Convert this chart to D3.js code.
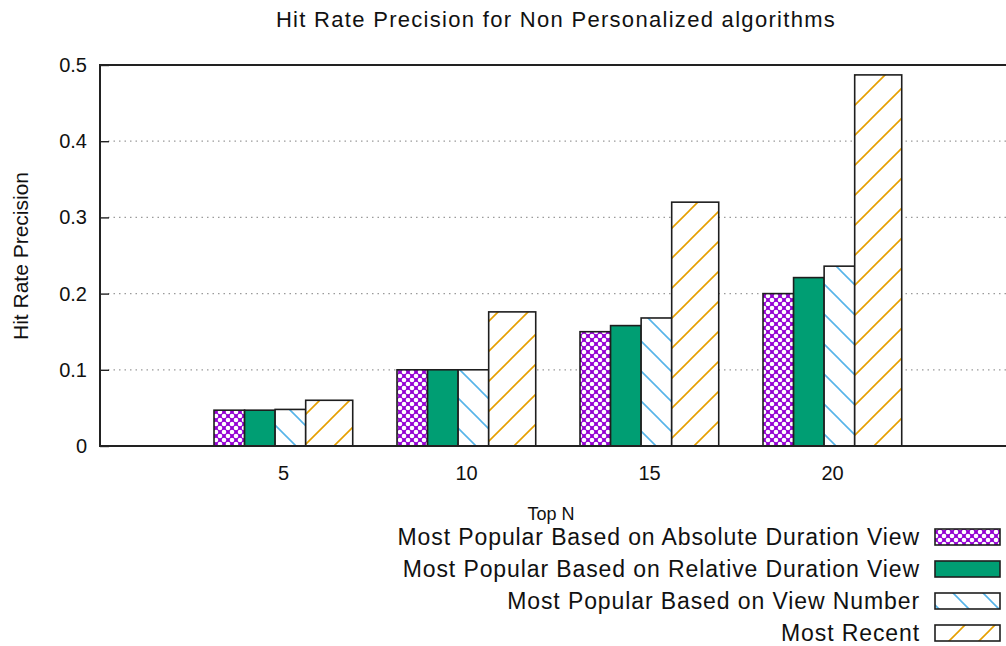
<!DOCTYPE html>
<html>
<head>
<meta charset="utf-8">
<script src="https://cdn.jsdelivr.net/npm/d3@7"></script>
<style>
  html, body { margin: 0; padding: 0; background: #fff; }
  svg { display: block; font-family: "Liberation Sans", Arial, sans-serif; }
</style>
</head>
<body>
<svg id="chart" width="1006" height="646"></svg>
<script>
// Hit rate precision of the non-personalized recommenders, per list size
const topN = [5, 10, 15, 20];
const seriesNames = [
  "Most Popular Based on Absolute Duration View",
  "Most Popular Based on Relative Duration View",
  "Most Popular Based on View Number",
  "Most Recent"
];
const absDuration = [0.047, 0.100, 0.150, 0.200];
const relDuration = [0.047, 0.100, 0.158, 0.221];
const viewNumber  = [0.048, 0.100, 0.168, 0.236];
const mostRecent  = [0.060, 0.176, 0.320, 0.487];
const yTicks = [0, 0.1, 0.2, 0.3, 0.4, 0.5];
const yTickLabels = ["0", "0.1", "0.2", "0.3", "0.4", "0.5"];

const series = [absDuration, relDuration, viewNumber, mostRecent];

const svg = d3.select("#chart");
const plotLeft = 100, plotTop = 65, plotBottom = 446;
const slot = 183;                           // distance between neighbouring groups
const plotRight = plotLeft + 5 * slot;      // frame runs past the page edge

const x = d3.scaleLinear().domain([0, 5]).range([plotLeft, plotRight]);
const y = d3.scaleLinear().domain([0, 0.5]).range([plotBottom, plotTop]);

// fill patterns, anchored to the page origin
const defs = svg.append("defs");
const pCross = defs.append("pattern").attr("id", "fill0")
  .attr("patternUnits", "userSpaceOnUse").attr("width", 8).attr("height", 8);
pCross.append("rect").attr("width", 8).attr("height", 8).attr("fill", "#9400d3");
[[0, 0], [8, 0], [0, 8], [8, 8], [4, 4]].forEach(([cx, cy]) =>
  pCross.append("circle").attr("cx", cx).attr("cy", cy).attr("r", 2.3).attr("fill", "#fff"));

const pSolid = defs.append("pattern").attr("id", "fill1")
  .attr("patternUnits", "userSpaceOnUse").attr("width", 8).attr("height", 8);
pSolid.append("rect").attr("width", 8).attr("height", 8).attr("fill", "#009e73");

const pBack = defs.append("pattern").attr("id", "fill2")
  .attr("patternUnits", "userSpaceOnUse").attr("width", 30).attr("height", 30);
pBack.append("rect").attr("width", 30).attr("height", 30).attr("fill", "#fff");
pBack.append("path").attr("d", "M-5,-5L35,35M-5,25L5,35M25,-5L35,5")
  .attr("stroke", "#56b4e9").attr("stroke-width", 1.6).attr("fill", "none");

const pFwd = defs.append("pattern").attr("id", "fill3")
  .attr("patternUnits", "userSpaceOnUse").attr("width", 30).attr("height", 30);
pFwd.append("rect").attr("width", 30).attr("height", 30).attr("fill", "#fff");
pFwd.append("path").attr("d", "M-5,35L35,-5M-5,5L5,-5M25,35L35,25")
  .attr("stroke", "#e69f00").attr("stroke-width", 1.6).attr("fill", "none");

// dotted horizontal grid
svg.append("g").selectAll("line")
  .data(yTicks.filter(d => d > 0 && d < 0.5))
  .join("line")
  .attr("x1", plotLeft + 8).attr("x2", plotRight)
  .attr("y1", d => y(d)).attr("y2", d => y(d))
  .attr("stroke", "#9a9a9a").attr("stroke-width", 1.2)
  .attr("stroke-dasharray", "1.5,4");

// bars: offset and width of each series inside a group, in group units
const barStart = [-0.377, -0.210, -0.043, 0.124];
const barWidth = [0.167, 0.167, 0.167, 0.257];

const bars = svg.append("g");
series.forEach((vals, s) => {
  bars.selectAll(null)
    .data(vals.map((v, i) => ({ v, i })))
    .join("rect")
    .attr("x", d => x(d.i + 1 + barStart[s]))
    .attr("width", x(barWidth[s]) - x(0))
    .attr("y", d => y(d.v))
    .attr("height", d => y(0) - y(d.v))
    .attr("fill", `url(#fill${s})`)
    .attr("stroke", "#1e1e1e").attr("stroke-width", 1.6);
});

// frame
svg.append("path")
  .attr("d", `M${plotRight},${plotTop}H${plotLeft}V${plotBottom}H${plotRight}`)
  .attr("fill", "none").attr("stroke", "#222").attr("stroke-width", 2);

// y axis
const yAxis = d3.axisLeft(y)
  .tickValues(yTicks)
  .tickFormat((d, i) => yTickLabels[i])
  .tickSizeInner(-9).tickSizeOuter(0).tickPadding(13);
const gy = svg.append("g").attr("transform", `translate(${plotLeft},0)`).call(yAxis);
gy.select(".domain").remove();
gy.selectAll(".tick line").attr("stroke", "#222").attr("stroke-width", 1.4);
gy.selectAll(".tick text").attr("font-size", 20).attr("fill", "#111")
  .attr("font-family", "Liberation Sans, Arial, sans-serif");

// x axis
const xAxis = d3.axisBottom(x)
  .tickValues(topN.map((d, i) => i + 1))
  .tickFormat((d, i) => topN[i])
  .tickSize(0).tickPadding(20);
const gx = svg.append("g").attr("transform", `translate(0,${plotBottom})`).call(xAxis);
gx.select(".domain").remove();
gx.selectAll(".tick text").attr("font-size", 20).attr("fill", "#111")
  .attr("font-family", "Liberation Sans, Arial, sans-serif");

// titles
svg.append("text").attr("x", 556).attr("y", 27).attr("text-anchor", "middle")
  .attr("font-size", 22).attr("letter-spacing", 1.3).attr("fill", "#111")
  .text("Hit Rate Precision for Non Personalized algorithms");

svg.append("text").attr("transform", "translate(28,256) rotate(-90)")
  .attr("text-anchor", "middle").attr("font-size", 21).attr("fill", "#111")
  .text("Hit Rate Precision");

svg.append("text").attr("x", 551).attr("y", 520).attr("text-anchor", "middle")
  .attr("font-size", 18).attr("fill", "#111")
  .text("Top N");

// legend
const legend = svg.append("g");
seriesNames.forEach((name, s) => {
  const cy = 537 + s * 32;
  legend.append("text").attr("x", 920).attr("y", cy + 8).attr("text-anchor", "end")
    .attr("font-size", 23).attr("letter-spacing", 0.9).attr("fill", "#111")
    .text(name);
  legend.append("rect").attr("x", 935).attr("y", cy - 8).attr("width", 65).attr("height", 16)
    .attr("fill", `url(#fill${s})`).attr("stroke", "#1e1e1e").attr("stroke-width", 1.6);
});
</script>
</body>
</html>
